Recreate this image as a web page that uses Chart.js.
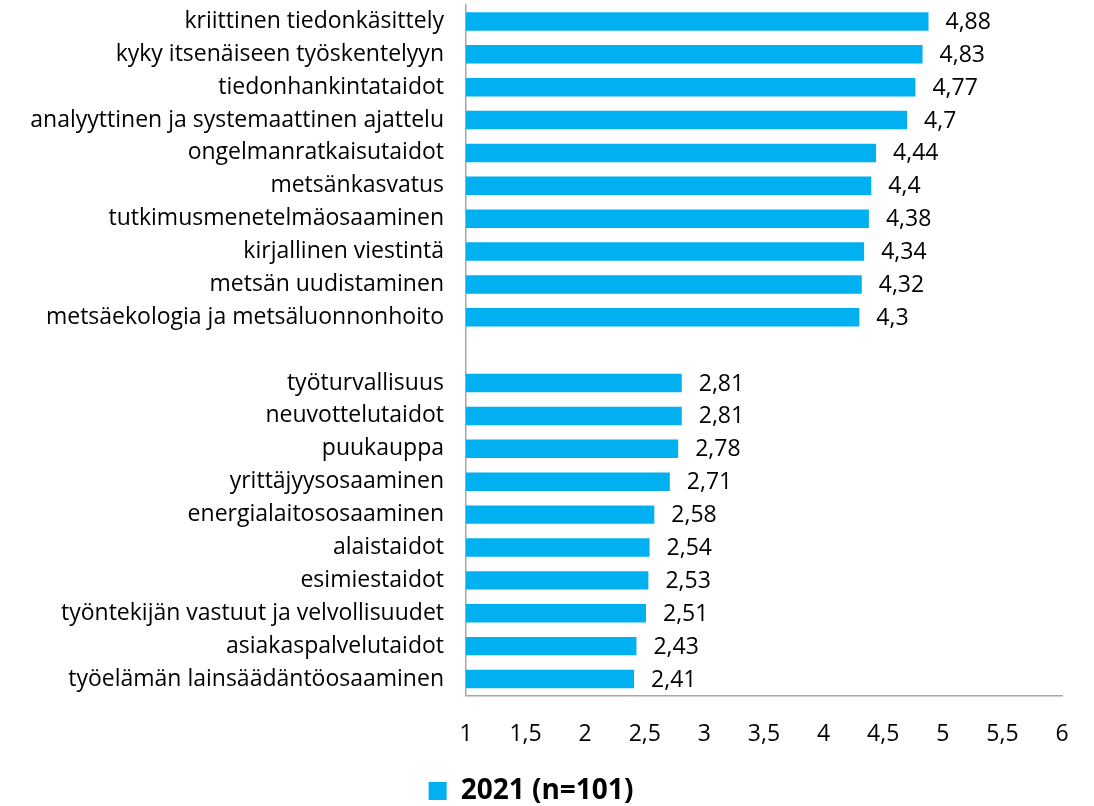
<!DOCTYPE html>
<html>
<head>
<meta charset="utf-8">
<script src="https://cdn.jsdelivr.net/npm/chart.js@4/dist/chart.umd.min.js"></script>
<style>
    body { margin: 0; background: #fff; }
    #wrap { width: 1094px; height: 806px; }
</style>
</head>
<body>
<div id="wrap"><canvas id="chart"></canvas></div>
<script>
// DATA

const categories = [
    "kriittinen tiedonkäsittely",
    "kyky itsenäiseen työskentelyyn",
    "tiedonhankintataidot",
    "analyyttinen ja systemaattinen ajattelu",
    "ongelmanratkaisutaidot",
    "metsänkasvatus",
    "tutkimusmenetelmäosaaminen",
    "kirjallinen viestintä",
    "metsän uudistaminen",
    "metsäekologia ja metsäluonnonhoito",
    "",
    "työturvallisuus",
    "neuvottelutaidot",
    "puukauppa",
    "yrittäjyysosaaminen",
    "energialaitososaaminen",
    "alaistaidot",
    "esimiestaidot",
    "työntekijän vastuut ja velvollisuudet",
    "asiakaspalvelutaidot",
    "työelämän lainsäädäntöosaaminen"
];

const values2021 = [4.88, 4.83, 4.77, 4.7, 4.44, 4.4, 4.38, 4.34, 4.32, 4.3,
    null,
    2.81, 2.81, 2.78, 2.71, 2.58, 2.54, 2.53, 2.51, 2.43, 2.41];

const seriesLabel = "2021 (n=101)";
const xMin = 1;
const xMax = 6;
const xStep = 0.5;

const FONT = "'Open Sans', sans-serif";
const BLUE = "#00B0F0";
const AXIS = "#a6a6a6";

function fmt(v) { return String(v).replace(".", ","); }

// VALUE LABELS

const valueLabels = {
    id: "valueLabels",
    afterDatasetsDraw(chart) {
        const ctx = chart.ctx;
        const meta = chart.getDatasetMeta(0);
        ctx.save();
        ctx.font = "23px " + FONT;
        ctx.fillStyle = "#000";
        ctx.textAlign = "left";
        ctx.textBaseline = "middle";
        meta.data.forEach((bar, i) => {
            const v = chart.data.datasets[0].data[i];
            if (v === null) return;
            ctx.fillText(fmt(v), bar.x + 17, bar.y + 1);
        });
        ctx.restore();
    }
};

// CHART

new Chart(document.getElementById("chart"), {
    type: "bar",
    data: {
        labels: categories,
        datasets: [{
            label: seriesLabel,
            data: values2021,
            backgroundColor: BLUE,
            barPercentage: 0.56,
            categoryPercentage: 1
        }]
    },
    options: {
        indexAxis: "y",
        responsive: true,
        maintainAspectRatio: false,
        animation: false,
        layout: { padding: { top: 5, right: 32, left: 0, bottom: -9 } },
        plugins: {
            tooltip: { enabled: false },
            legend: {
                position: "bottom",
                labels: {
                    color: "#000",
                    font: { family: FONT, size: 28, weight: "bold" },
                    boxWidth: 18,
                    boxHeight: 18,
                    padding: 4
                }
            }
        },
        scales: {
            x: {
                min: xMin,
                max: xMax,
                grid: { display: false, drawTicks: false },
                border: { display: true, color: AXIS, width: 1.5 },
                ticks: {
                    stepSize: xStep,
                    color: "#000",
                    padding: 25,
                    font: { family: FONT, size: 23 },
                    callback: v => fmt(v)
                }
            },
            y: {
                grid: { display: false, drawTicks: false },
                border: { display: true, color: AXIS, width: 1.5 },
                afterFit(scale) {
                    scale.width = 466;
                    scale.paddingTop = 0;
                    scale.paddingBottom = 0;
                },
                ticks: {
                    color: "#000",
                    padding: 22,
                    autoSkip: false,
                    font: { family: FONT, size: 23 }
                }
            }
        }
    },
    plugins: [valueLabels]
});
</script>
</body>
</html>
